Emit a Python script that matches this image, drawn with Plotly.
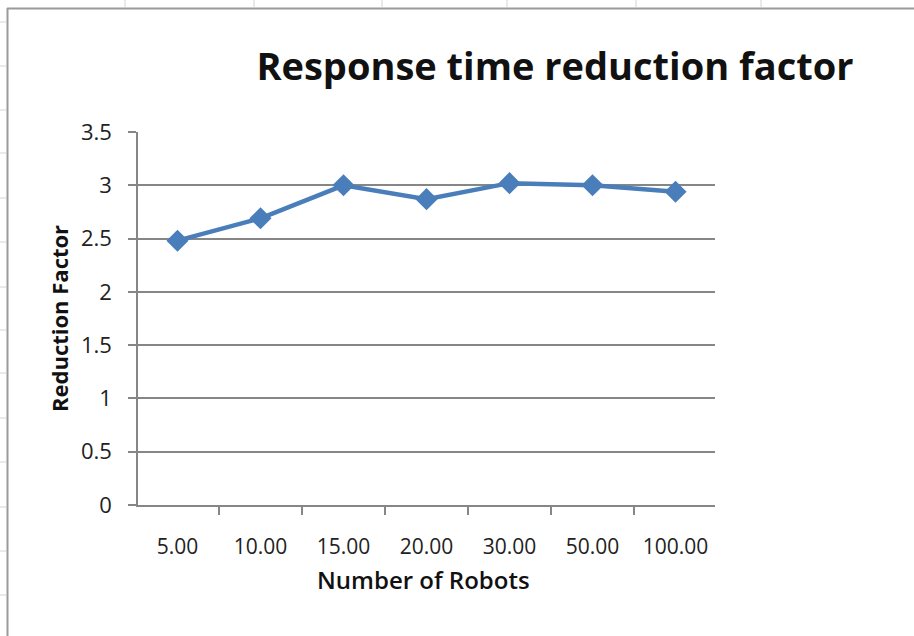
import plotly.graph_objects as go

# Data
robots = ["5.00", "10.00", "15.00", "20.00", "30.00", "50.00", "100.00"]
reduction = [2.48, 2.69, 3.00, 2.87, 3.02, 3.00, 2.94]
y_ticks = [0, 0.5, 1, 1.5, 2, 2.5, 3, 3.5]
y_tick_text = ["0", "0.5", "1", "1.5", "2", "2.5", "3", "3.5"]

W, H = 914, 636
L, R, T, B = 138, 715, 132, 505  # plot area in pixels

def px(x):
    return (x - L) / (R - L)

def py(y):
    return (B - y) / (B - T)

AXIS_GRAY = "#868686"
SERIES = "#4A7EBB"
FONT = "Open Sans"

fig = go.Figure()
fig.add_trace(go.Scatter(
    x=robots, y=reduction, mode="lines+markers",
    line=dict(color=SERIES, width=4.5),
    marker=dict(symbol="diamond", size=17, color=SERIES),
    showlegend=False, hoverinfo="x+y",
))

shapes = []
# chart frame (top and left edges visible)
shapes.append(dict(type="line", xref="paper", yref="paper",
                   x0=px(7), x1=px(914), y0=py(8.5), y1=py(8.5),
                   line=dict(color="#9a9a9a", width=2)))
shapes.append(dict(type="line", xref="paper", yref="paper",
                   x0=px(7.5), x1=px(7.5), y0=py(8), y1=py(636),
                   line=dict(color="#9a9a9a", width=2)))
# worksheet cell lines around the frame
for cx in [125, 254, 382, 507, 636, 761]:
    shapes.append(dict(type="line", xref="paper", yref="paper",
                       x0=px(cx), x1=px(cx), y0=py(0), y1=py(7),
                       line=dict(color="#d4d4d4", width=1)))
for cy in [22, 66, 110, 153, 198, 242, 287, 330, 373, 418, 462, 507, 551, 595]:
    shapes.append(dict(type="line", xref="paper", yref="paper",
                       x0=px(0), x1=px(6), y0=py(cy), y1=py(cy),
                       line=dict(color="#d4d4d4", width=1)))

annotations = [
    dict(text="Reduction Factor", xref="paper", yref="paper",
         x=px(59), y=py(319), showarrow=False, textangle=-90,
         font=dict(family=FONT, size=22, color="#111111", weight="bold"),
         xanchor="center", yanchor="middle"),
    dict(text="Number of Robots", xref="paper", yref="paper",
         x=px(423), y=py(579), showarrow=False,
         font=dict(family=FONT, size=24, color="#111111", weight=600),
         xanchor="center", yanchor="middle"),
]

fig.update_layout(
    width=W, height=H,
    margin=dict(l=L, r=W - R, t=T, b=H - B),
    paper_bgcolor="white", plot_bgcolor="white",
    title=dict(text="Response time reduction factor",
               x=555 / W, xanchor="center", y=1 - 67 / H, yanchor="middle",
               font=dict(family=FONT, size=38, color="#111111", weight="bold")),
    shapes=shapes,
    annotations=annotations,
)

fig.update_xaxes(
    type="category", tickson="boundaries",
    showline=True, linecolor=AXIS_GRAY, linewidth=1.5,
    ticks="outside", ticklen=8, tickcolor=AXIS_GRAY, tickwidth=1.5,
    showgrid=False, zeroline=False,
    tickfont=dict(family=FONT, size=21, color="#222222"),
    ticklabelstandoff=22,
)
fig.update_yaxes(
    range=[0, 3.5], tickvals=y_ticks, ticktext=y_tick_text,
    showline=True, linecolor=AXIS_GRAY, linewidth=1.5,
    ticks="outside", ticklen=8, tickcolor=AXIS_GRAY, tickwidth=1.5,
    showgrid=True, gridcolor=AXIS_GRAY, gridwidth=1.5,
    zeroline=False,
    tickfont=dict(family=FONT, size=22, color="#222222"),
    ticklabelstandoff=12,
)

fig.write_html("out.html")
